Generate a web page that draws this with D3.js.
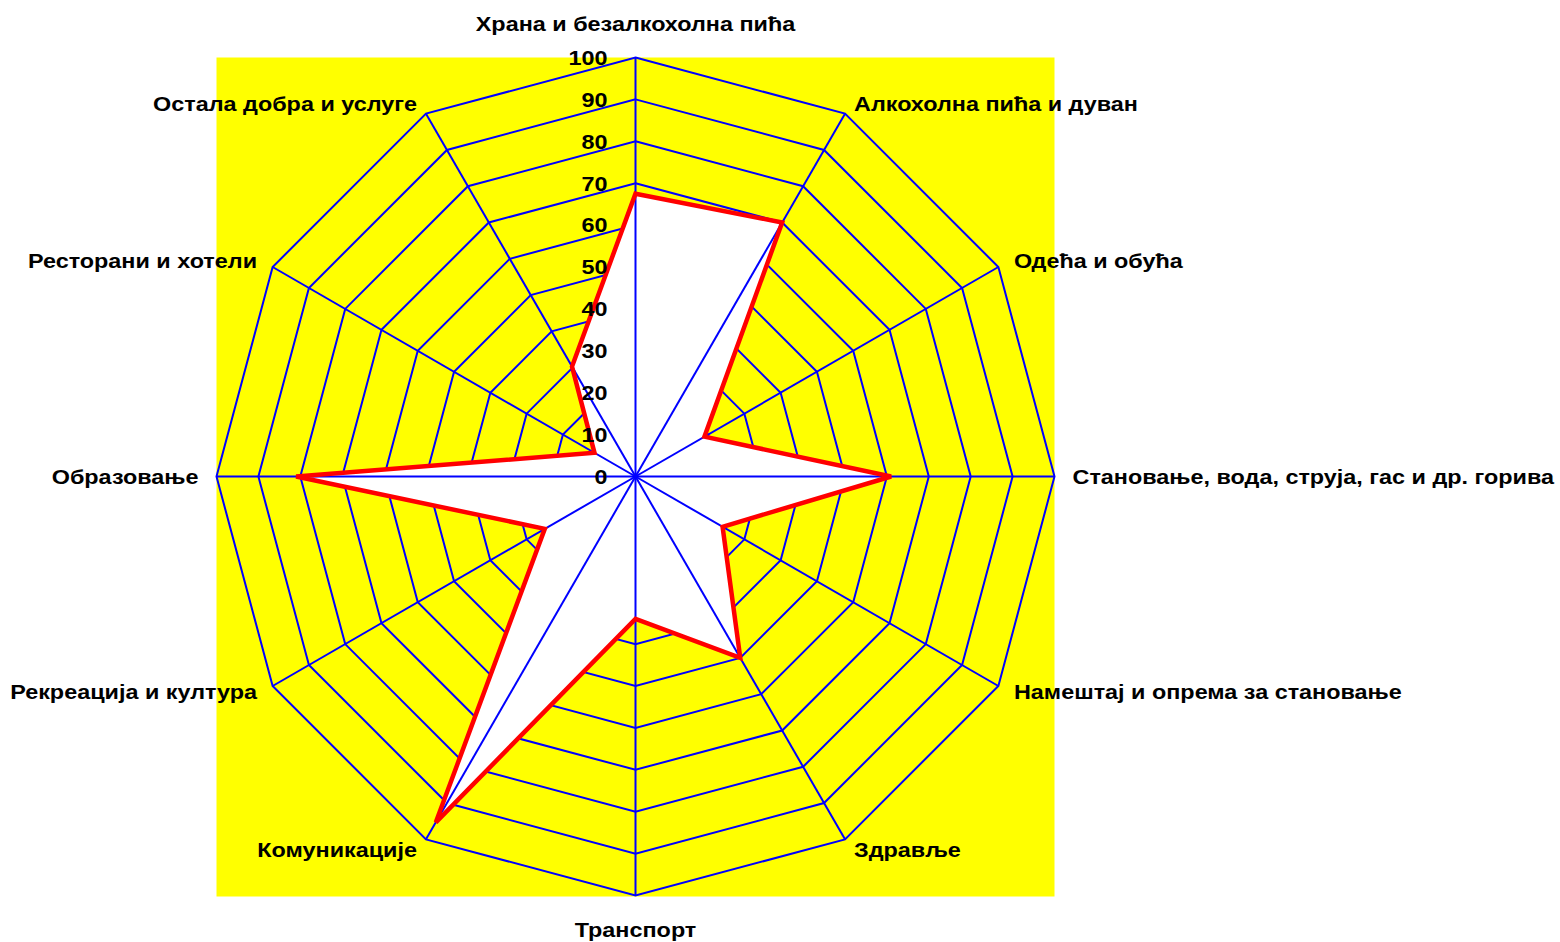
<!DOCTYPE html>
<html lang="sr">
<head>
    <meta charset="UTF-8">
    <title>Radar</title>
    <style>
        body { margin: 0; background: #fff; }
        text { font-family: "Liberation Sans", Arial, sans-serif; font-weight: bold; fill: #000; font-size: 21px; }
        .ring, .spoke { fill: none; stroke: #0000ff; stroke-width: 2; }
        .area { fill: #fff; stroke: none; }
        .series { fill: none; stroke: #ff0000; stroke-width: 4.5; stroke-linejoin: miter; }
    </style>
</head>
<body>
<script src="https://d3js.org/d3.v7.min.js"></script>
<script>
    const categories = [
        'Храна и безалкохолна пића',
        'Алкохолна пића и дуван',
        'Одећа и обућа',
        'Становање, вода, струја, гас и др. горива',
        'Намештај и опрема за становање',
        'Здравље',
        'Транспорт',
        'Комуникације',
        'Рекреација и култура',
        'Образовање',
        'Ресторани и хотели',
        'Остала добра и услуге'
    ];
    const values = [67.5, 70, 19, 61, 24, 50, 34, 95.3, 25, 81, 11.3, 30.3];
    const ticks = [0, 10, 20, 30, 40, 50, 60, 70, 80, 90, 100];

    const width = 1560;
    const height = 942;
    const cx = 635.5, cy = 476.5, R = 419;
    const stretch = 1.114; // text in the original is a bit wider than Arial

    const svg = d3.select('body').append('svg').attr('width', width).attr('height', height);
    const g = svg.append('g').attr('transform', `translate(${cx},${cy})`);

    const r = d3.scaleLinear().domain([0, 100]).range([0, R]);
    const angle = d3.scaleLinear().domain([0, categories.length]).range([0, 2 * Math.PI]);

    const radial = d3.lineRadial()
        .angle((d, i) => angle(i))
        .radius(d => r(d))
        .curve(d3.curveLinearClosed);

    // plot area background
    g.append('rect')
        .attr('x', -R).attr('y', -R)
        .attr('width', 2 * R).attr('height', 2 * R + 1)
        .attr('fill', '#ffff00');

    // rings
    g.selectAll('.ring').data(ticks.slice(1)).enter().append('path')
        .attr('class', 'ring')
        .attr('d', t => radial(categories.map(() => t)));

    // series area
    g.append('path').attr('class', 'area').attr('d', radial(values));

    // spokes
    g.selectAll('.spoke').data(categories).enter().append('line')
        .attr('class', 'spoke')
        .attr('x1', 0).attr('y1', 0)
        .attr('x2', (d, i) => r(100) * Math.sin(angle(i)))
        .attr('y2', (d, i) => -r(100) * Math.cos(angle(i)));

    // series line
    g.append('path').attr('class', 'series').attr('d', radial(values));

    // tick labels
    g.selectAll('.tick').data(ticks).enter().append('text')
        .attr('class', 'tick')
        .attr('transform', t => `translate(-28,${-r(t)}) scale(${stretch},1)`)
        .attr('dy', '0.35em')
        .attr('text-anchor', 'end')
        .text(t => t);

    // category labels
    g.selectAll('.cat').data(categories).enter().append('text')
        .attr('class', 'cat')
        .attr('transform', (d, i) => {
            const s = Math.sin(angle(i));
            const c = Math.cos(angle(i));
            const extra = Math.abs(s) < 0.01 ? 22 : 0;
            const x = (R + 18) * s;
            const y = -(R + 12 + extra) * c;
            return `translate(${x},${y}) scale(${stretch},1)`;
        })
        .attr('dy', '0.35em')
        .attr('text-anchor', (d, i) => {
            const s = Math.sin(angle(i));
            return Math.abs(s) < 0.01 ? 'middle' : (s > 0 ? 'start' : 'end');
        })
        .text(d => d);
</script>
</body>
</html>
